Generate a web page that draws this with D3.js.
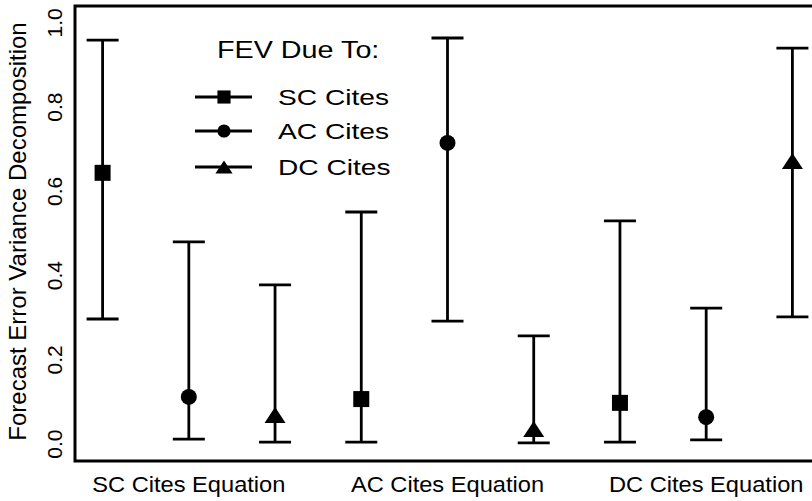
<!DOCTYPE html>
<html>
<head>
<meta charset="utf-8">
<script src="https://cdn.jsdelivr.net/npm/d3@7"></script>
<style>
  body { margin: 0; background: #fff; }
  text { font-family: "Liberation Sans", Arial, Helvetica, sans-serif; fill: #000; }
</style>
</head>
<body>
<script>
// forecast error variance decomposition, 3 equations x 3 sources
var equations = ["SC Cites Equation", "AC Cites Equation", "DC Cites Equation"];
var sources = ["SC Cites", "AC Cites", "DC Cites"];
var shapes = ["square", "circle", "triangle"];

// one row per equation, one value per source
var estimate = [
  [0.644, 0.112, 0.069],
  [0.107, 0.715, 0.036],
  [0.098, 0.064, 0.672]
];
var lower = [
  [0.297, 0.012, 0.005],
  [0.005, 0.292, 0.003],
  [0.005, 0.010, 0.302]
];
var upper = [
  [0.959, 0.480, 0.378],
  [0.551, 0.964, 0.257],
  [0.530, 0.323, 0.940]
];
var yTicks = [0, 0.2, 0.4, 0.6, 0.8, 1.0];

var width = 812, height = 501;
// plot box (right edge runs past the window, like the reference)
var boxL = 75, boxR = 820, boxT = 6, boxB = 461;

var svg = d3.select("body").append("svg")
    .attr("width", width)
    .attr("height", height);

// R-style 4% padding on both axes
var x = d3.scaleLinear().domain([0.68, 9.32]).range([boxL, boxR]);
var y = d3.scaleLinear().domain([-0.04, 1.04]).range([boxB, boxT]);

var points = [];
equations.forEach(function (eq, i) {
  sources.forEach(function (s, j) {
    points.push({
      idx: i * 3 + j + 1,
      shape: shapes[j],
      est: estimate[i][j],
      lo: lower[i][j],
      hi: upper[i][j]
    });
  });
});

function marker(g, shape, k) {
  if (shape === "square") {
    g.append("rect").attr("x", -8 * k).attr("y", -8 * k)
      .attr("width", 16 * k).attr("height", 16 * k);
  } else if (shape === "circle") {
    g.append("circle").attr("r", 8 * k);
  } else {
    g.append("path")
      .attr("d", "M0," + (-8 * k) + "L" + (10.5 * k) + "," + (8 * k) + "L" + (-10.5 * k) + "," + (8 * k) + "Z");
  }
}

var bars = svg.append("g")
    .attr("stroke", "#000")
    .attr("stroke-width", 2.8);

var pt = bars.selectAll("g.pt")
    .data(points)
    .enter().append("g")
    .attr("class", "pt");

pt.append("line")
    .attr("x1", function (d) { return x(d.idx); })
    .attr("x2", function (d) { return x(d.idx); })
    .attr("y1", function (d) { return y(d.lo); })
    .attr("y2", function (d) { return y(d.hi); });

pt.append("line")
    .attr("x1", function (d) { return x(d.idx) - 16; })
    .attr("x2", function (d) { return x(d.idx) + 16; })
    .attr("y1", function (d) { return y(d.hi); })
    .attr("y2", function (d) { return y(d.hi); });

pt.append("line")
    .attr("x1", function (d) { return x(d.idx) - 16; })
    .attr("x2", function (d) { return x(d.idx) + 16; })
    .attr("y1", function (d) { return y(d.lo); })
    .attr("y2", function (d) { return y(d.lo); });

pt.each(function (d) {
  var m = d3.select(this).append("g")
      .attr("transform", "translate(" + x(d.idx) + "," + y(d.est) + ")")
      .attr("stroke", "none")
      .attr("fill", "#000");
  marker(m, d.shape, 1);
});

// box
svg.append("rect")
    .attr("x", boxL).attr("y", boxT)
    .attr("width", boxR - boxL).attr("height", boxB - boxT)
    .attr("fill", "none")
    .attr("stroke", "#000")
    .attr("stroke-width", 3);

// y tick labels, rotated like R's default
svg.selectAll("text.ytick")
    .data(yTicks)
    .enter().append("text")
    .attr("class", "ytick")
    .attr("transform", function (d) { return "translate(62," + y(d) + ") rotate(-90)"; })
    .attr("text-anchor", "middle")
    .attr("font-size", 21)
    .text(function (d) { return d.toFixed(1); });

svg.append("text")
    .attr("transform", "translate(26," + ((boxT + boxB) / 2 - 2) + ") rotate(-90)")
    .attr("text-anchor", "middle")
    .attr("font-size", 24)
    .text("Forecast Error Variance Decomposition");

// category labels under the middle point of each group
svg.selectAll("text.xcat")
    .data(equations)
    .enter().append("text")
    .attr("class", "xcat")
    .attr("transform", function (d, i) { return "translate(" + x(i * 3 + 2) + ",492) scale(1.1,1)"; })
    .attr("text-anchor", "middle")
    .attr("font-size", 21.5)
    .text(function (d) { return d; });

// legend
var legend = svg.append("g");
legend.append("text")
    .attr("transform", "translate(217,58) scale(1.25,1)")
    .attr("font-size", 23)
    .text("FEV Due To:");

var legY = [97, 131, 167];
var item = legend.selectAll("g.item")
    .data(sources)
    .enter().append("g")
    .attr("class", "item")
    .attr("transform", function (d, i) { return "translate(0," + legY[i] + ")"; });

item.append("line")
    .attr("x1", 195).attr("x2", 252)
    .attr("stroke", "#000").attr("stroke-width", 3);

item.each(function (d, i) {
  var m = d3.select(this).append("g")
      .attr("transform", "translate(224,0)")
      .attr("fill", "#000");
  marker(m, shapes[i], 0.82);
});

item.append("text")
    .attr("transform", "translate(278,7.5) scale(1.28,1)")
    .attr("font-size", 22)
    .text(function (d) { return d; });
</script>
</body>
</html>
